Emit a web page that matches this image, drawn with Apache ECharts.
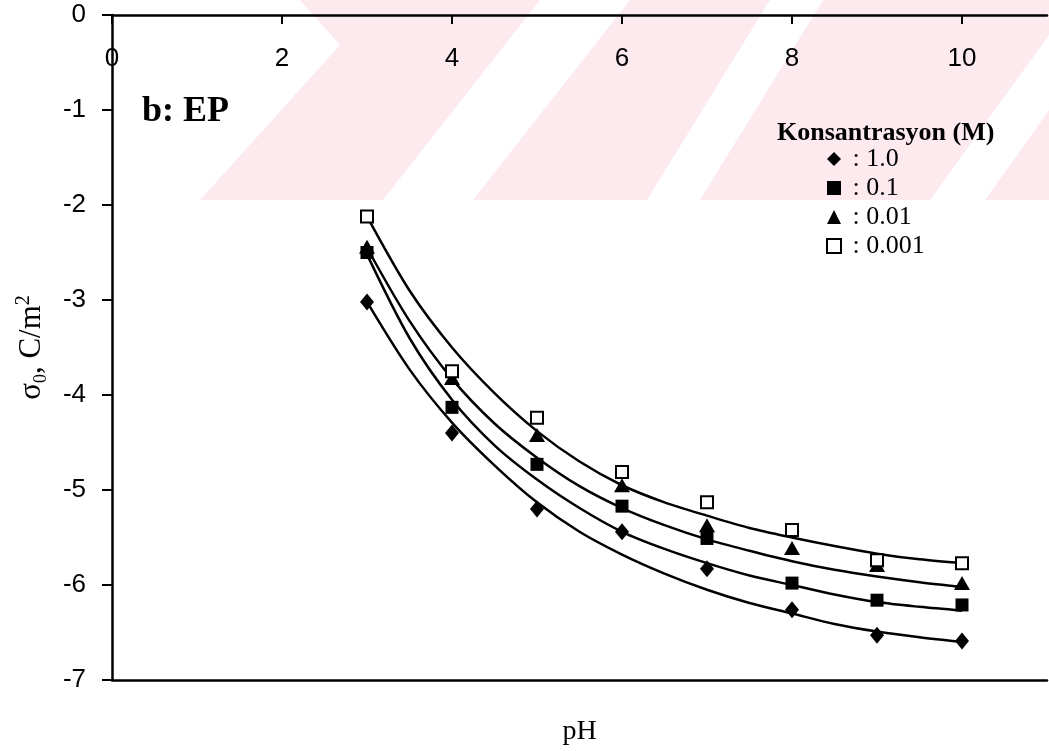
<!DOCTYPE html>
<html>
<head>
<meta charset="utf-8">
<script src="https://cdn.jsdelivr.net/npm/echarts@6/dist/echarts.min.js"></script>
<style>
  html, body { margin: 0; padding: 0; background: #fff; }
  #chart { width: 1049px; height: 751px; }
</style>
</head>
<body>
<div id="chart"></div>
<script>
// measured points (pH vs surface charge)
const phValues = [3, 4, 5, 6, 7, 8, 9, 10];
const sigma1 = [-3.02, -4.40, -5.20, -5.44, -5.83, -6.26, -6.53, -6.59];
const sigma01 = [-2.50, -4.13, -4.73, -5.17, -5.51, -5.98, -6.16, -6.21];
const sigma001 = [-2.44, -3.82, -4.42, -4.95, -5.37, -5.61, -5.79, -5.98];
const sigma0001 = [-2.12, -3.75, -4.24, -4.81, -5.13, -5.42, -5.74, -5.77];

// fitted curves, every half pH unit
const fitX = [3, 3.5, 4, 4.5, 5, 5.5, 6, 6.5, 7, 7.5, 8, 8.5, 9, 9.5, 10];
const fit1 = [-3.02, -3.73, -4.29, -4.74, -5.13, -5.44, -5.68, -5.88, -6.05, -6.19, -6.30, -6.41, -6.49, -6.55, -6.60];
const fit01 = [-2.52, -3.40, -4.05, -4.53, -4.89, -5.19, -5.44, -5.62, -5.77, -5.90, -6.00, -6.10, -6.18, -6.23, -6.27];
const fit001 = [-2.45, -3.22, -3.83, -4.30, -4.66, -4.96, -5.19, -5.37, -5.52, -5.64, -5.75, -5.84, -5.91, -5.97, -6.02];
const fit0001 = [-2.12, -2.90, -3.50, -3.98, -4.38, -4.70, -4.95, -5.13, -5.27, -5.40, -5.50, -5.59, -5.67, -5.73, -5.77];

const xTicks = [0, 2, 4, 6, 8, 10];
const seriesNames = ["1.0", "0.1", "0.01", "0.001"];

const serif = "'Liberation Serif', 'Times New Roman', serif";
const sans = "'Liberation Sans', Arial, sans-serif";

function pairs(xs, ys) {
    return xs.map((x, i) => [x, ys[i]]);
}

// faint watermark behind the plot
const pink = "#fdeaee";
const watermark = [
    { type: "polygon", z: -10, shape: { points: [[300, 0], [1049, 0], [1049, 200], [200, 200], [340, 45]] }, style: { fill: pink } },
    { type: "polygon", z: -9, shape: { points: [[383, 200], [473, 200], [630, 0], [540, 0]] }, style: { fill: "#fff" } },
    { type: "polygon", z: -9, shape: { points: [[647, 200], [700, 200], [823, 0], [770, 0]] }, style: { fill: "#fff" } },
    { type: "polygon", z: -9, shape: { points: [[930, 200], [985, 200], [1049, 110], [1049, 35]] }, style: { fill: "#fff" } },
];

const chart = echarts.init(document.getElementById("chart"));

const scatterStyle = [
    { symbol: "diamond", symbolSize: [14, 17] },
    { symbol: "rect", symbolSize: 13 },
    { symbol: "triangle", symbolSize: [16, 14] },
    { symbol: "rect", symbolSize: 12 },
];
const itemStyles = [
    { color: "#000", opacity: 1 },
    { color: "#000", opacity: 1 },
    { color: "#000", opacity: 1 },
    { color: "#fff", borderColor: "#000", borderWidth: 2, opacity: 1 },
];

const measured = [sigma1, sigma01, sigma001, sigma0001];
const fitted = [fit1, fit01, fit001, fit0001];

const series = [];
fitted.forEach((ys) => {
    series.push({
        type: "line",
        data: pairs(fitX, ys),
        smooth: 0.3,
        showSymbol: false,
        silent: true,
        lineStyle: { color: "#000", width: 2.5 },
        z: 2,
    });
});
measured.forEach((ys, i) => {
    series.push({
        name: seriesNames[i],
        type: "scatter",
        data: pairs(phValues, ys),
        symbol: scatterStyle[i].symbol,
        symbolSize: scatterStyle[i].symbolSize,
        itemStyle: itemStyles[i],
        z: 3,
    });
});

const legendIcons = ["diamond", "rect", "triangle", "rect"];

const option = {
    animation: false,
    backgroundColor: "#fff",
    grid: { left: 112, top: 15, right: 2, bottom: 71 },
    title: [
        {
            text: "b: EP",
            left: 137,
            top: 89,
            textStyle: { fontFamily: serif, fontWeight: "bold", fontSize: 36, color: "#000" },
        },
        {
            text: "Konsantrasyon (M)",
            left: 772,
            top: 115,
            textStyle: { fontFamily: serif, fontWeight: "bold", fontSize: 26, color: "#000" },
        },
    ],
    legend: {
        data: seriesNames.map((n, i) => ({
            name: n,
            icon: legendIcons[i],
            itemStyle: itemStyles[i],
        })),
        orient: "vertical",
        left: 821,
        top: 141,
        itemWidth: 14,
        itemHeight: 14,
        itemGap: 3,
        formatter: " : {name}",
        textStyle: { fontFamily: serif, fontSize: 26, lineHeight: 26, color: "#000" },
    },
    xAxis: [
        {
            type: "value",
            position: "top",
            min: 0,
            max: 11,
            interval: 2,
            axisLine: { lineStyle: { color: "#000", width: 2.5 } },
            axisTick: { inside: true, length: 9, customValues: xTicks, lineStyle: { color: "#000", width: 2 } },
            axisLabel: {
                inside: true,
                margin: 31,
                customValues: xTicks,
                fontFamily: sans,
                fontSize: 26,
                color: "#000",
            },
            splitLine: { show: false },
        },
        {
            type: "value",
            position: "bottom",
            min: 0,
            max: 11,
            name: "pH",
            nameLocation: "middle",
            nameGap: 38,
            nameTextStyle: { fontFamily: serif, fontSize: 28, color: "#000" },
            axisLine: { lineStyle: { color: "#000", width: 2.5 } },
            axisTick: { show: false },
            axisLabel: { show: false },
            splitLine: { show: false },
        },
    ],
    yAxis: {
        type: "value",
        min: -7,
        max: 0,
        interval: 1,
        name: "{s|σ}{sub|0}{n|, C/m}{sup|2}",
        nameLocation: "middle",
        nameRotate: 90,
        nameGap: 62,
        nameTextStyle: {
            color: "#000",
            rich: {
                s: { fontFamily: serif, fontSize: 31, color: "#000" },
                sub: { fontFamily: serif, fontSize: 18, color: "#000", verticalAlign: "bottom", padding: [14, 0, 0, 0] },
                n: { fontFamily: serif, fontSize: 31, color: "#000" },
                sup: { fontFamily: serif, fontSize: 20, color: "#000", padding: [0, 0, 16, 0] },
            },
        },
        axisLine: { show: true, lineStyle: { color: "#000", width: 2.5 } },
        axisTick: { show: true, length: 10, lineStyle: { color: "#000", width: 2 } },
        axisLabel: { margin: 26, fontFamily: sans, fontSize: 26, color: "#000" },
        splitLine: { show: false },
    },
    graphic: watermark,
    series: series,
};

chart.setOption(option);
</script>
</body>
</html>
